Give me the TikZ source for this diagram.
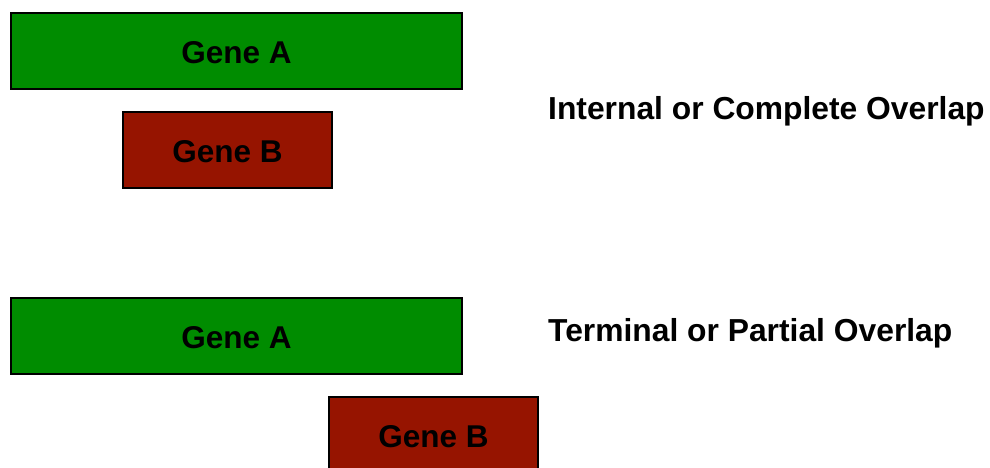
\documentclass[tikz,border=0pt]{standalone}
\usepackage{fontspec}
\setmainfont{Liberation Sans}
\definecolor{geneA}{HTML}{008C00}
\definecolor{geneB}{HTML}{961400}
\tikzset{
  genebox/.style={draw=black, line width=2pt, inner sep=0pt, outer sep=0pt},
  genetext/.style={font=\fontsize{31.5}{36}\selectfont\bfseries, yshift=-1.5pt},
  overlaplabel/.style={anchor=base west, inner sep=0pt, font=\fontsize{31.8}{36}\selectfont\bfseries}
}
\begin{document}
\begin{tikzpicture}[x=1pt,y=1pt]
\useasboundingbox (0,0) rectangle (990,-467);
\clip (0,0) rectangle (990,-467);
% internal overlap
\node[genebox, fill=geneA, minimum width=451pt, minimum height=76pt] (a1) at (236.5,-51) {};
\node[genetext] (ta1) at (a1.center) {Gene A};
\node[genebox, fill=geneB, minimum width=209pt, minimum height=76pt] (b1) at (227.5,-150) {};
\node[genetext] (tb1) at (b1.center) {Gene B};
\node[overlaplabel] (l1) at (548,-119) {Internal or Complete Overlap};
% terminal overlap
\node[genebox, fill=geneA, minimum width=451pt, minimum height=76pt] (a2) at (236.5,-336) {};
\node[genetext] (ta2) at (a2.center) {Gene A};
\node[genebox, fill=geneB, minimum width=209pt, minimum height=76pt] (b2) at (433.5,-435) {};
\node[genetext] (tb2) at (b2.center) {Gene B};
\node[overlaplabel] (l2) at (548,-341) {Terminal or Partial Overlap};
\end{tikzpicture}
\end{document}
